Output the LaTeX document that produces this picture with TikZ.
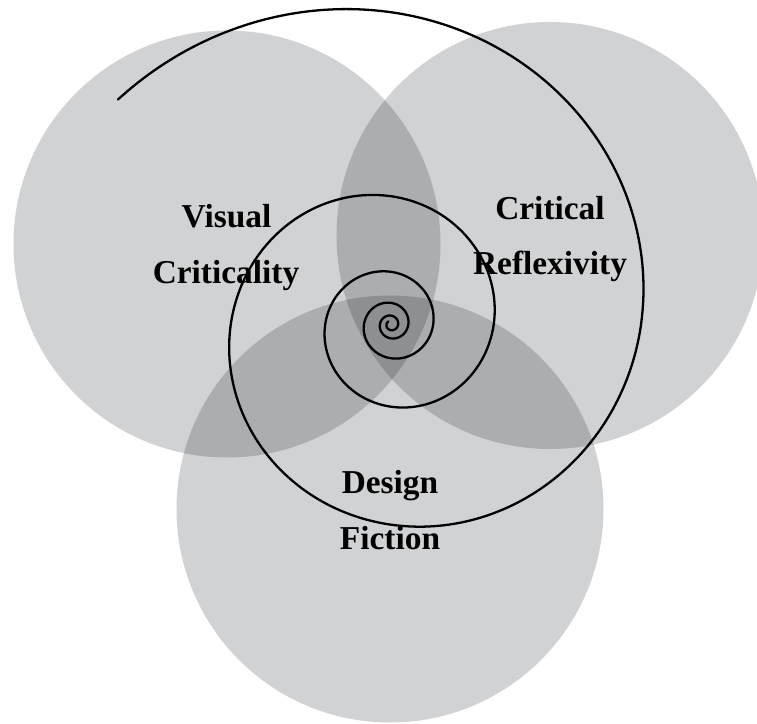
\documentclass[tikz,border=0pt]{standalone}
\usepackage{fontspec}
\setmainfont{Liberation Serif}
\begin{document}
\begin{tikzpicture}[x=1bp,y=-1bp,
  labeltext/.style={font=\bfseries\fontsize{33.5}{33.5}\selectfont, anchor=base, inner sep=0pt, text=black},
  spiralline/.style={line width=2.3bp, draw=black, line cap=round, line join=round}]
\definecolor{ringone}{RGB}{209,210,212}
\definecolor{ringtwo}{RGB}{171,173,176}
\definecolor{ringthree}{RGB}{141,143,146}
\useasboundingbox (0,0) rectangle (757,724);
\def\rr{213.5bp}
% circle centres
\coordinate (cl) at (227,244);
\coordinate (cr) at (550,235.5);
\coordinate (cb) at (390,509);
% single discs
\fill[ringone] (cl) circle[radius=\rr];
\fill[ringone] (cr) circle[radius=\rr];
\fill[ringone] (cb) circle[radius=\rr];
% pairwise overlaps
\begin{scope}
  \clip (cl) circle[radius=\rr];
  \fill[ringtwo] (cr) circle[radius=\rr];
  \fill[ringtwo] (cb) circle[radius=\rr];
\end{scope}
\begin{scope}
  \clip (cr) circle[radius=\rr];
  \fill[ringtwo] (cb) circle[radius=\rr];
\end{scope}
% triple overlap
\begin{scope}
  \clip (cl) circle[radius=\rr];
  \clip (cr) circle[radius=\rr];
  \fill[ringthree] (cb) circle[radius=\rr];
\end{scope}
% logarithmic spiral winding inwards
\draw[spiralline] plot[domain=-140.5:1670, samples=900, smooth, variable=\t]
  ({391+250*exp(-0.0024784*\t)*cos(\t)}, {324.5+250*exp(-0.0024784*\t)*sin(\t)});
% labels
\node[labeltext] (vis) at (226.5,227) {Visual};
\node[labeltext] (crit) at (226,283) {Criticality};
\node[labeltext] (critical) at (550,219.3) {Critical};
\node[labeltext] (refl) at (550,274.3) {Reflexivity};
\node[labeltext] (des) at (390,493.3) {Design};
\node[labeltext] (fic) at (390,549.3) {Fiction};
\end{tikzpicture}
\end{document}
